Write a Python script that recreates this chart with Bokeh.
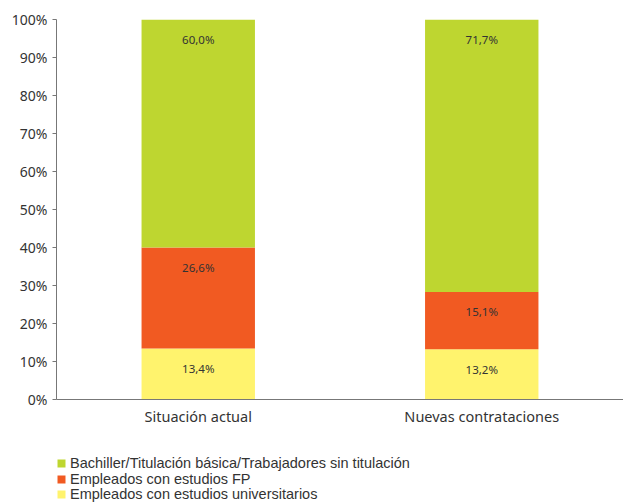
from bokeh.plotting import figure
from bokeh.layouts import column
from bokeh.models import ColumnDataSource, Legend, LegendItem, FixedTicker, CustomJSTickFormatter
from bokeh.core.properties import value
from bokeh.embed import file_html
from bokeh.resources import INLINE

categories = ["Situación actual", "Nuevas contrataciones"]
series = ["Empleados con estudios universitarios", "Empleados con estudios FP",
          "Bachiller/Titulación básica/Trabajadores sin titulación"]
universitarios = [13.4, 13.2]
fp = [26.6, 15.1]
bachiller = [60.0, 71.7]
colors = ["#FFF36D", "#F15A22", "#BED630"]
yticks = [0, 10, 20, 30, 40, 50, 60, 70, 80, 90, 100]

FONT = "Noto Sans"
LFONT = "Liberation Sans"

p = figure(x_range=categories, y_range=(0, 100), width=623, height=435,
           output_backend="svg", toolbar_location=None,
           min_border_left=56, min_border_right=0, min_border_top=19, min_border_bottom=36)

src = ColumnDataSource(dict(cat=categories, u=universitarios, f=fp, b=bachiller))
rs = p.vbar_stack(["u", "f", "b"], x="cat", width=0.4, source=src, color=colors, line_color=None)

# labels
vals = [universitarios, fp, bachiller]
lx, ly, lt = [], [], []
for i, c in enumerate(categories):
    cum = 0
    for v in vals:
        cum += v[i]
        lx.append(c)
        ly.append(cum)
        lt.append(f"{v[i]:.1f}%".replace(".", ","))
p.text(x=lx, y=ly, text=lt, y_offset=20, text_align="center", text_baseline="middle",
       text_font=value(FONT), text_font_size="11.5px", text_color="#333333")

p.xgrid.visible = False
p.ygrid.visible = False
p.outline_line_color = None

p.yaxis.ticker = FixedTicker(ticks=yticks)
p.yaxis.formatter = CustomJSTickFormatter(code="return tick + '%';")
p.yaxis.minor_tick_line_color = None
p.yaxis.major_tick_in = 0
p.yaxis.major_tick_out = 4
p.yaxis.axis_line_color = "#777777"
p.yaxis.major_tick_line_color = "#777777"
p.yaxis.major_label_text_font = FONT
p.yaxis.major_label_text_font_size = "14px"
p.yaxis.major_label_text_color = "#333333"

p.xaxis.major_tick_line_color = None
p.xaxis.minor_tick_line_color = None
p.xaxis.axis_line_color = "#777777"
p.xaxis.major_label_text_font = FONT
p.xaxis.major_label_text_font_size = "14.5px"
p.xaxis.major_label_text_color = "#333333"
p.xaxis.major_label_standoff = 0

# legend figure: same data, drawn far outside its visible range, used only for the swatches
p2 = figure(x_range=categories, y_range=(1000, 1001), width=623, height=69,
            output_backend="svg", toolbar_location=None,
            x_axis_location=None, y_axis_location=None,
            min_border_left=56, min_border_right=0, min_border_top=0, min_border_bottom=0)
p2.grid.visible = False
p2.outline_line_color = None
lrs = p2.vbar_stack(["u", "f", "b"], x="cat", width=0.4, source=src, color=colors, line_color=None)

row_y = [33, 17, 2]
for k, i in enumerate([2, 1, 0]):
    lg = Legend(items=[LegendItem(label=series[i], renderers=[lrs[i]])],
                orientation="vertical", location=(0, row_y[k]),
                glyph_width=10, glyph_height=10, label_height=10, spacing=0, padding=0,
                margin=0, border_line_color=None, background_fill_alpha=0,
                label_text_font=LFONT, label_text_font_size="14.5px", label_text_color="#333333",
                label_standoff=4)
    p2.add_layout(lg)

layout = column(p, p2, spacing=0)
open("out.html", "w").write(file_html(layout, INLINE))
